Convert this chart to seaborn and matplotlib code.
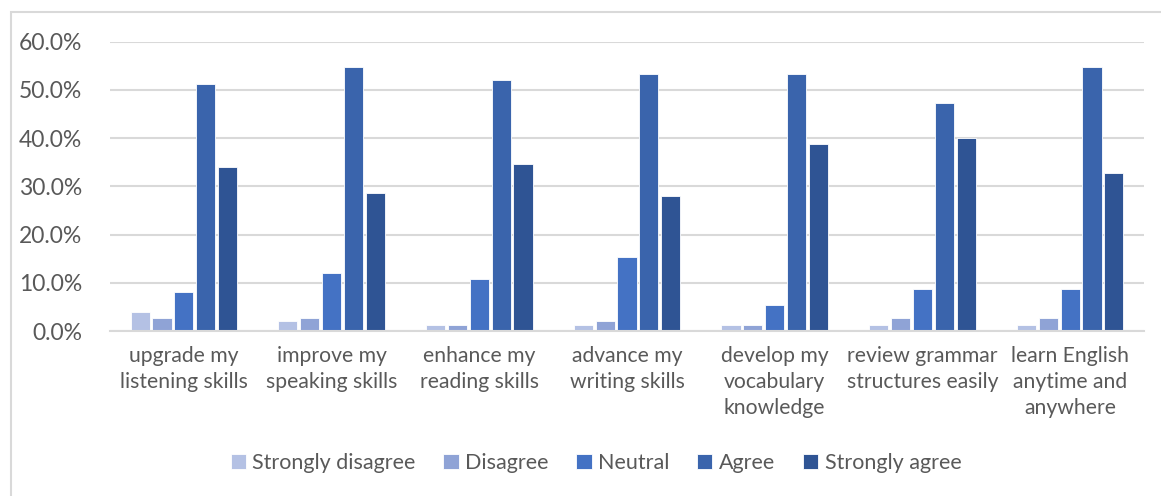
import numpy as np
import pandas as pd
import matplotlib
matplotlib.use("Agg")
import matplotlib.pyplot as plt
import seaborn as sns
from matplotlib.patches import Rectangle
from matplotlib.ticker import PercentFormatter

categories = [
    "upgrade my\nlistening skills",
    "improve my\nspeaking skills",
    "enhance my\nreading skills",
    "advance my\nwriting skills",
    "develop my\nvocabulary\nknowledge",
    "review grammar\nstructures easily",
    "learn English\nanytime and\nanywhere",
]
responses = ["Strongly disagree", "Disagree", "Neutral", "Agree", "Strongly agree"]

strongly_disagree = [4.0, 2.0, 1.3, 1.3, 1.3, 1.3, 1.3]
disagree = [2.7, 2.7, 1.3, 2.0, 1.3, 2.7, 2.7]
neutral = [8.0, 12.0, 10.7, 15.3, 5.3, 8.7, 8.7]
agree = [51.3, 54.7, 52.0, 53.3, 53.3, 47.3, 54.7]
strongly_agree = [34.0, 28.7, 34.7, 28.0, 38.7, 40.0, 32.7]

colors = ["#B4C1E4", "#8FA3D6", "#4472C4", "#3A64AC", "#2F5494"]

series = [strongly_disagree, disagree, neutral, agree, strongly_agree]
rows = []
for resp, vals in zip(responses, series):
    for cat, v in zip(categories, vals):
        rows.append({"item": cat, "response": resp, "share": v / 100.0})
df = pd.DataFrame(rows)

sns.set_theme(style="white")
plt.rcParams["font.family"] = ["Lato", "DejaVu Sans"]

fig = plt.figure(figsize=(11.61, 4.96), dpi=100)
ax = fig.add_axes([110 / 1161, 1 - 331 / 496, (1144 - 110) / 1161, (331 - 41.7) / 496])

sns.barplot(
    data=df, x="item", y="share", hue="response",
    order=categories, hue_order=responses, palette=colors, saturation=1,
    width=0.74, gap=0.12, ax=ax, legend=True,
    edgecolor="white", linewidth=0.6,
)

ax.set_ylim(0, 0.6)
ax.set_yticks(np.arange(0, 0.61, 0.1))
ax.yaxis.set_major_formatter(PercentFormatter(1.0, decimals=1))
ax.set_xlim(-0.5, len(categories) - 0.5)
ax.set_xlabel("")
ax.set_ylabel("")
ax.grid(axis="y", color="#D9D9D9", linewidth=1.5)
ax.set_axisbelow(True)
for side in ["left", "right", "top"]:
    ax.spines[side].set_visible(False)
ax.spines["bottom"].set_color("#D9D9D9")
ax.spines["bottom"].set_linewidth(1.5)
ax.tick_params(axis="y", length=0, pad=20, labelsize=16.5, labelcolor="#595959")
ax.tick_params(axis="x", length=0, pad=11, labelsize=15.2, labelcolor="#595959")
for lbl in ax.get_xticklabels():
    lbl.set_linespacing(1.38)

leg = ax.get_legend()
handles, labels = ax.get_legend_handles_labels()
leg.remove()
fig.legend(
    handles, labels, loc="center", bbox_to_anchor=(596 / 1161, 1 - 463 / 496),
    ncol=5, frameon=False, fontsize=15.5, labelcolor="#595959",
    handlelength=0.7, handleheight=0.7, handletextpad=0.3, columnspacing=1.3,
)

# chart-area border
fig.patches.append(Rectangle((11 / 1161, -0.1), 1.2, 1 - 12 / 496 + 0.1,
                             transform=fig.transFigure, fill=False,
                             edgecolor="#D9D9D9", linewidth=1.5))

fig.savefig("out.png", dpi=100, facecolor="white")
